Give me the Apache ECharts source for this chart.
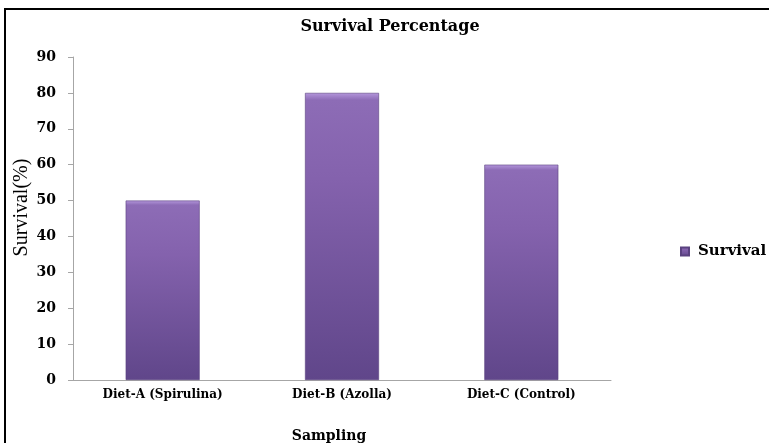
<!DOCTYPE html>
<html>
<head>
<meta charset="utf-8">
<script src="https://cdn.jsdelivr.net/npm/echarts@6/dist/echarts.min.js"></script>
<style>
  html, body { margin: 0; padding: 0; background: #fff; }
  #chart { width: 769px; height: 443px; }
</style>
</head>
<body>
<div id="chart"></div>
<script>
// Survival percentage per diet group
const categories = ['Diet-A (Spirulina)', 'Diet-B (Azolla)', 'Diet-C (Control)'];
const survival = [50, 80, 60];
const seriesName = 'Survival';

const serif = '"Liberation Serif", "DejaVu Serif", serif';
const heavy = '"DejaVu Serif", "Liberation Serif", serif';

const chart = echarts.init(document.getElementById('chart'), null, { renderer: 'canvas' });

const barFill = new echarts.graphic.LinearGradient(0, 0, 0, 1, [
  { offset: 0, color: '#b497dc' },
  { offset: 0.025, color: '#8d6cb6' },
  { offset: 0.3, color: '#8462ad' },
  { offset: 1, color: '#60468a' }
]);

chart.setOption({
  animation: false,
  backgroundColor: '#ffffff',
  title: {
    text: 'Survival Percentage',
    left: 385,
    textAlign: 'center',
    top: 14,
    textStyle: { fontFamily: heavy, fontSize: 16, fontWeight: 'bold', color: '#000' }
  },
  graphic: [
    {
      type: 'polyline',
      shape: { points: [[5, 443], [5, 9], [769, 9]] },
      style: { stroke: '#000', lineWidth: 2, fill: null }
    }
  ],
  legend: {
    data: [seriesName],
    left: 675,
    top: 239,
    icon: 'rect',
    itemWidth: 8,
    itemHeight: 8,
    textStyle: { fontFamily: heavy, fontSize: 15, fontWeight: 'bold', color: '#000', padding: [0, 0, 0, 4] }
  },
  grid: { left: 73, right: 158, top: 57, bottom: 63, outerBoundsMode: 'none', containLabel: false },
  xAxis: {
    type: 'category',
    data: categories,
    name: 'Sampling',
    nameLocation: 'middle',
    nameGap: 49,
    nameMoveOverlap: false,
    nameTextStyle: { fontFamily: heavy, fontSize: 14, fontWeight: 'bold', color: '#000', padding: [0, 26, 0, 0] },
    axisLine: { lineStyle: { color: '#a6a6a6', width: 1 } },
    axisTick: { show: false },
    axisLabel: { fontFamily: heavy, fontSize: 12, fontWeight: 'bold', color: '#000', margin: 9 }
  },
  yAxis: {
    type: 'value',
    min: 0,
    max: 90,
    interval: 10,
    name: 'Survival(%)',
    nameLocation: 'middle',
    nameGap: 41,
    nameMoveOverlap: false,
    nameRotate: 90,
    nameTextStyle: { fontFamily: serif, fontSize: 20, color: '#000', padding: [0, 0, 0, 22] },
    axisLine: { show: true, lineStyle: { color: '#a6a6a6', width: 1 } },
    axisTick: { show: true, length: 5, lineStyle: { color: '#a6a6a6' } },
    axisLabel: { fontFamily: heavy, fontSize: 14, fontWeight: 'bold', color: '#000', margin: 17 },
    splitLine: { show: false }
  },
  series: [
    {
      name: seriesName,
      type: 'bar',
      data: survival,
      barWidth: 74,
      itemStyle: {
        color: barFill,
        borderColor: '#5a4280',
        borderWidth: 0.6
      }
    }
  ]
});
</script>
</body>
</html>
